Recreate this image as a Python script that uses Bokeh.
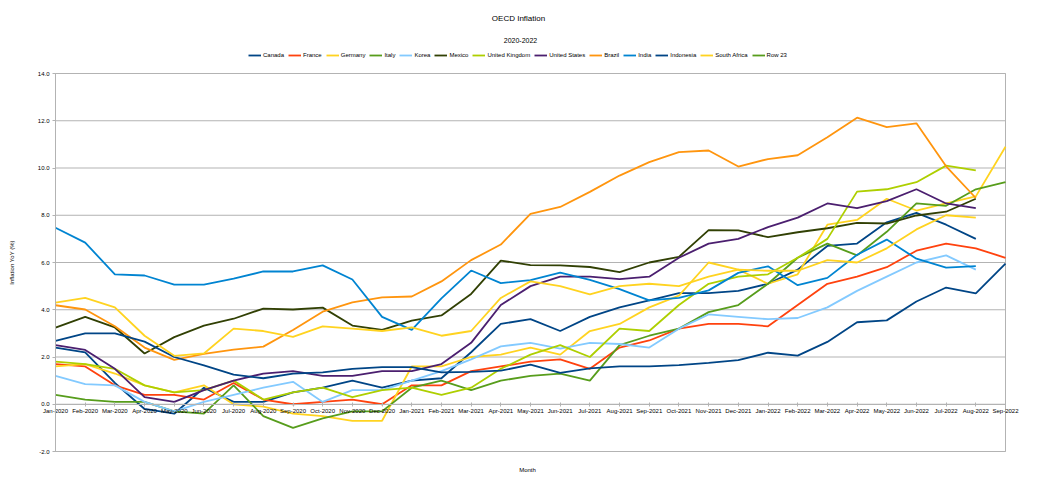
from bokeh.plotting import figure
from bokeh.layouts import column
from bokeh.models import (Range1d, FixedTicker, Legend, LegendItem, Label,
                          NumeralTickFormatter, LinearAxis)
from bokeh.embed import file_html
from bokeh.resources import INLINE

months = ["Jan-2020", "Feb-2020", "Mar-2020", "Apr-2020", "May-2020", "Jun-2020",
          "Jul-2020", "Aug-2020", "Sep-2020", "Oct-2020", "Nov-2020", "Dec-2020",
          "Jan-2021", "Feb-2021", "Mar-2021", "Apr-2021", "May-2021", "Jun-2021",
          "Jul-2021", "Aug-2021", "Sep-2021", "Oct-2021", "Nov-2021", "Dec-2021",
          "Jan-2022", "Feb-2022", "Mar-2022", "Apr-2022", "May-2022", "Jun-2022",
          "Jul-2022", "Aug-2022", "Sep-2022"]

canada = [2.4, 2.2, 0.9, -0.2, -0.4, 0.7, 0.1, 0.1, 0.5, 0.7, 1.0, 0.7,
          1.0, 1.1, 2.2, 3.4, 3.6, 3.1, 3.7, 4.1, 4.4, 4.7, 4.7, 4.8,
          5.1, 5.7, 6.7, 6.8, 7.7, 8.1, 7.6, 7.0]
france = [1.7, 1.6, 0.8, 0.4, 0.4, 0.2, 0.9, 0.2, 0.0, 0.1, 0.2, 0.0,
          0.8, 0.8, 1.4, 1.6, 1.8, 1.9, 1.5, 2.4, 2.7, 3.2, 3.4, 3.4,
          3.3, 4.2, 5.1, 5.4, 5.8, 6.5, 6.8, 6.6, 6.2]
germany = [1.6, 1.7, 1.3, 0.8, 0.5, 0.8, 0.0, -0.1, -0.4, -0.5, -0.7, -0.7,
           1.6, 1.6, 2.0, 2.1, 2.4, 2.1, 3.1, 3.4, 4.1, 4.6, 6.0, 5.7,
           5.1, 5.5, 7.6, 7.8, 8.7, 8.2, 8.5, 8.8, 10.9]
italy = [0.4, 0.2, 0.1, 0.1, -0.3, -0.4, 0.8, -0.5, -1.0, -0.6, -0.3, -0.3,
         0.7, 1.0, 0.6, 1.0, 1.2, 1.3, 1.0, 2.5, 2.9, 3.2, 3.9, 4.2,
         5.1, 6.2, 6.8, 6.3, 7.3, 8.5, 8.4, 9.1, 9.4]
korea = [1.2, 0.85, 0.8, 0.1, -0.3, 0.1, 0.4, 0.7, 0.95, 0.1, 0.6, 0.6,
         1.0, 1.4, 1.9, 2.45, 2.6, 2.35, 2.6, 2.55, 2.4, 3.2, 3.8, 3.7,
         3.6, 3.65, 4.1, 4.8, 5.4, 6.0, 6.3, 5.7]
mexico = [3.24, 3.70, 3.25, 2.15, 2.84, 3.33, 3.62, 4.05, 4.01, 4.09, 3.33, 3.15,
          3.54, 3.76, 4.67, 6.08, 5.89, 5.88, 5.81, 5.59, 6.00, 6.24, 7.37, 7.36,
          7.07, 7.28, 7.45, 7.68, 7.65, 7.99, 8.15, 8.70]
uk = [1.8, 1.7, 1.5, 0.8, 0.5, 0.6, 1.0, 0.2, 0.5, 0.7, 0.3, 0.6,
      0.7, 0.4, 0.7, 1.5, 2.1, 2.5, 2.0, 3.2, 3.1, 4.2, 5.1, 5.4,
      5.5, 6.2, 7.0, 9.0, 9.1, 9.4, 10.1, 9.9]
us = [2.5, 2.3, 1.5, 0.3, 0.1, 0.6, 1.0, 1.3, 1.4, 1.2, 1.2, 1.4,
      1.4, 1.7, 2.6, 4.2, 5.0, 5.4, 5.4, 5.3, 5.4, 6.2, 6.8, 7.0,
      7.5, 7.9, 8.5, 8.3, 8.6, 9.1, 8.5, 8.3]
brazil = [4.19, 4.01, 3.30, 2.40, 1.88, 2.13, 2.31, 2.44, 3.14, 3.92, 4.31, 4.52,
          4.56, 5.20, 6.10, 6.76, 8.06, 8.35, 8.99, 9.68, 10.25, 10.67, 10.74, 10.06,
          10.38, 10.54, 11.30, 12.13, 11.73, 11.89, 10.07, 8.73]
india = [7.47, 6.84, 5.5, 5.45, 5.06, 5.06, 5.32, 5.62, 5.62, 5.88, 5.28, 3.7,
         3.15, 4.48, 5.66, 5.13, 5.25, 5.57, 5.26, 4.87, 4.4, 4.5, 4.82, 5.56,
         5.84, 5.04, 5.35, 6.33, 6.97, 6.16, 5.78, 5.85]
indonesia = [2.68, 3.0, 3.0, 2.65, 2.0, 1.65, 1.25, 1.1, 1.3, 1.35, 1.5, 1.57,
             1.57, 1.35, 1.37, 1.42, 1.68, 1.33, 1.52, 1.6, 1.6, 1.66, 1.75, 1.87,
             2.18, 2.06, 2.64, 3.47, 3.55, 4.35, 4.94, 4.69, 5.95]
south_africa = [4.3, 4.5, 4.1, 2.9, 2.05, 2.15, 3.2, 3.1, 2.85, 3.3, 3.2, 3.1,
                3.25, 2.9, 3.1, 4.5, 5.2, 5.0, 4.65, 5.0, 5.1, 5.0, 5.4, 5.7,
                5.65, 5.65, 6.1, 6.0, 6.6, 7.4, 8.0, 7.9]
row23 = [float("nan")]  # empty series, shown only in the legend

series = [
    ("Canada", canada, "#004586"),
    ("France", france, "#ff420e"),
    ("Germany", germany, "#ffd320"),
    ("Italy", italy, "#579d1c"),
    ("Korea", korea, "#83caff"),
    ("Mexico", mexico, "#314004"),
    ("United Kingdom", uk, "#aecf00"),
    ("United States", us, "#4b1f6f"),
    ("Brazil", brazil, "#ff950e"),
    ("India", india, "#0084d1"),
    ("Indonesia", indonesia, "#004586"),
    ("South Africa", south_africa, "#ffd320"),
    ("Row 23", row23, "#579d1c"),
]

y_ticks = [-2, 0, 2, 4, 6, 8, 10, 12, 14]
Y_MIN, Y_MAX = -2, 14
FONT = "Liberation Sans"
GRID = "#b3b3b3"

W = 1038
HEAD_H = 68
MAIN_H = 482 - HEAD_H
# pixel placement of the plot box inside the main canvas
BOX_L, BOX_R, BOX_T, BOX_B = 55, 1005, 73 - HEAD_H, 451 - HEAD_H

# ---------- header: title, subtitle, legend ----------
head = figure(width=W, height=HEAD_H, x_range=Range1d(0, W), y_range=Range1d(0, HEAD_H),
              x_axis_type=None, y_axis_type=None, output_backend="svg",
              toolbar_location=None, title=None,
              min_border_left=0, min_border_right=0, min_border_top=0, min_border_bottom=0,
              background_fill_color="white", border_fill_color="white")
head.outline_line_color = None
head.grid.grid_line_color = None

def screen_label(fig, text, x, y, size):
    fig.add_layout(Label(x=x, y=y, x_units="screen", y_units="screen", text=text,
                         text_align="center", text_baseline="middle", text_font=FONT,
                         text_font_size=size, text_color="black"))

screen_label(head, "OECD Inflation", 518, HEAD_H - 18, "8px")
screen_label(head, "2020-2022", 520, HEAD_H - 40, "7px")

head_items = []
for name, vals, color in series:
    r = head.line(x=[0], y=[float("nan")], line_color=color, line_width=1.8)
    head_items.append(LegendItem(label=name, renderers=[r]))

legend = Legend(items=head_items, orientation="horizontal", location=(248, HEAD_H - 59),
                label_text_font=FONT, label_text_font_size="6px", label_text_color="black",
                glyph_width=13, glyph_height=8, label_standoff=2, spacing=4,
                label_width=0, padding=0, margin=0, border_line_color=None,
                background_fill_alpha=0, label_height=8)
head.add_layout(legend, "center")

# ---------- main chart ----------
n = len(months) - 1
xs = (BOX_R - BOX_L) / n
ys = (BOX_B - BOX_T) / (Y_MAX - Y_MIN)
x_range = Range1d(-BOX_L / xs, n + (W - BOX_R) / xs)
y_range = Range1d(Y_MIN - (MAIN_H - BOX_B) / ys, Y_MAX + BOX_T / ys)

p = figure(width=W, height=MAIN_H, x_range=x_range, y_range=y_range,
           x_axis_type=None, y_axis_type=None,
           output_backend="svg", toolbar_location=None, title=None,
           min_border_left=0, min_border_right=0, min_border_top=0, min_border_bottom=0,
           background_fill_color="white", border_fill_color="white")
p.outline_line_color = None
p.grid.grid_line_color = None

# plot wall: horizontal grid lines and frame box
p.segment(x0=0, x1=n, y0=y_ticks, y1=y_ticks, line_color=GRID, line_width=1)
p.quad(left=0, right=n, bottom=Y_MIN, top=Y_MAX, fill_color=None, line_color=GRID, line_width=1)

for name, vals, color in series:
    p.line(x=list(range(len(vals))), y=vals, line_color=color, line_width=1.8)

yax = LinearAxis(fixed_location=0, bounds=(Y_MIN, Y_MAX),
                 ticker=FixedTicker(ticks=y_ticks),
                 formatter=NumeralTickFormatter(format="0.0"),
                 axis_line_color=GRID, major_tick_line_color=GRID,
                 major_tick_in=0, major_tick_out=3, minor_tick_line_color=None,
                 major_label_text_font=FONT, major_label_text_font_size="6px",
                 major_label_text_color="black", major_label_standoff=3,
                 axis_label="Inflation YoY (%)", axis_label_text_font=FONT,
                 axis_label_text_font_size="6px", axis_label_text_font_style="normal",
                 axis_label_text_color="black", axis_label_standoff=20)
p.add_layout(yax, "left")

xax = LinearAxis(fixed_location=0, bounds=(0, n),
                 ticker=FixedTicker(ticks=list(range(len(months)))),
                 major_label_overrides={i: m for i, m in enumerate(months)},
                 axis_line_color=GRID, major_tick_line_color=GRID,
                 major_tick_in=2, major_tick_out=2, minor_tick_line_color=None,
                 major_label_text_font=FONT, major_label_text_font_size="6px",
                 major_label_text_color="black", major_label_standoff=2)
p.add_layout(xax, "below")

screen_label(p, "Month", 527, MAIN_H - (469 - HEAD_H), "6px")

open("out.html", "w").write(file_html(column(head, p), INLINE))
